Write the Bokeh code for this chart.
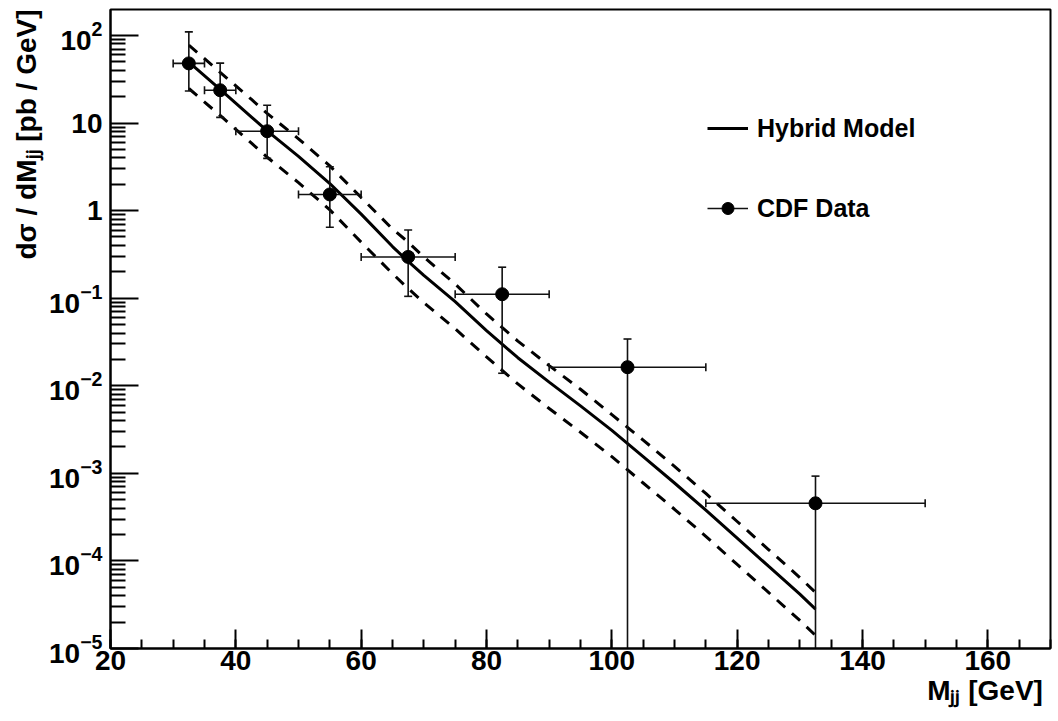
from math import pi
from bokeh.plotting import figure
from bokeh.models import (Range1d, FixedTicker, LogTickFormatter, Legend, LegendItem,
                          ColumnDataSource, SingleIntervalTicker)
from bokeh.embed import file_html
from bokeh.resources import INLINE

# ---------------- data ----------------
# CDF data points
data_x = [32.5, 37.5, 45.0, 55.0, 67.5, 82.5, 102.5, 132.5]
data_y = [48.0, 23.7, 8.07, 1.53, 0.296, 0.111, 0.0163, 4.55e-4]
data_x_low = [30.0, 35.0, 40.0, 50.0, 60.0, 75.0, 90.0, 115.0]
data_x_high = [35.0, 40.0, 50.0, 60.0, 75.0, 90.0, 115.0, 150.0]
data_y_high = [110.0, 48.4, 16.0, 3.17, 0.60, 0.226, 0.0342, 9.3e-4]
data_y_low = [23.2, 11.6, 3.95, 0.645, 0.105, 0.0139, 1e-6, 1e-6]

# Hybrid model (central, upper and lower dashed curves)
model_x = [32.5, 37.5, 42.5, 45, 50, 55, 60, 65, 67.5, 70, 75, 80, 85, 90, 95,
           100, 105, 110, 115, 120, 125, 130, 132.5]
model_central = [49.5, 24.3, 11.7, 8.13, 4.17, 2.04, 0.912, 0.389, 0.263, 0.182,
                 0.0912, 0.0427, 0.0209, 0.011, 0.00589, 0.00309, 0.00155,
                 7.76e-4, 3.80e-4, 1.82e-4, 8.71e-5, 4.17e-5, 2.82e-5]
model_upper = [77.6, 38.0, 18.6, 12.9, 6.61, 3.24, 1.41, 0.617, 0.437, 0.295,
               0.145, 0.0661, 0.0324, 0.0170, 0.00912, 0.00468, 0.0024, 0.0012,
               5.89e-4, 2.82e-4, 1.35e-4, 6.46e-5, 4.37e-5]
model_lower = [24.8, 12.2, 5.89, 4.07, 2.09, 1.02, 0.437, 0.191, 0.129, 0.0891,
               0.0447, 0.0214, 0.0105, 0.0055, 0.00295, 0.00155, 7.76e-4,
               3.89e-4, 1.91e-4, 9.12e-5, 4.37e-5, 2.09e-5, 1.41e-5]

# axis ticks
y_major_ticks = [1e-5, 1e-4, 1e-3, 1e-2, 1e-1, 1, 10, 100]
y_minor_mantissas = [2, 3, 4, 5, 6, 7, 8, 9]
y_label_overrides = {1: "1", 10: "10"}

legend_labels = ["Hybrid Model", "CDF Data"]
x_title = "M\u2c7c\u2c7c [GeV]"
y_title = "d\u03c3 / dM\u2c7c\u2c7c [pb / GeV]"

FONT = "Liberation Sans"

# ---------------- figure ----------------
p = figure(width=1058, height=721,
           x_range=Range1d(20, 170), y_range=Range1d(1e-5, 198),
           y_axis_type="log", output_backend="svg", toolbar_location=None,
           min_border_left=110, min_border_right=8, min_border_top=9,
           min_border_bottom=73)
p.background_fill_color = "white"
p.border_fill_color = "white"
p.outline_line_color = "black"
p.outline_line_width = 2
p.xgrid.visible = False
p.ygrid.visible = False

# x axis
xa = p.xaxis[0]
xa.ticker = SingleIntervalTicker(interval=20, num_minor_ticks=4)
xa.major_tick_in = 19
xa.major_tick_out = 0
xa.minor_tick_in = 9
xa.minor_tick_out = 0
xa.major_tick_line_width = 2
xa.minor_tick_line_width = 2
xa.axis_line_width = 2
xa.major_label_standoff = 2
xa.major_label_text_font = FONT
xa.major_label_text_font_style = "bold"
xa.major_label_text_font_size = "28px"
xa.major_label_text_color = "black"

# y axis
y_minor_ticks = [m * t for t in y_major_ticks[:-1] for m in y_minor_mantissas]
ya = p.yaxis[0]
ya.ticker = FixedTicker(ticks=y_major_ticks, minor_ticks=y_minor_ticks)
ya.formatter = LogTickFormatter(min_exponent=1)
ya.major_label_overrides = y_label_overrides
ya.major_tick_in = 28
ya.major_tick_out = 0
ya.minor_tick_in = 15
ya.minor_tick_out = 0
ya.major_tick_line_width = 2
ya.minor_tick_line_width = 2
ya.axis_line_width = 2
ya.major_label_standoff = 8
ya.major_label_text_font = FONT
ya.major_label_text_font_style = "bold"
ya.major_label_text_font_size = "28px"
ya.major_label_text_color = "black"

# axis titles
aligned = True
try:
    xa.axis_label_align = "right"
    ya.axis_label_align = "right"
except Exception:
    aligned = False
if aligned:
    xa.axis_label = x_title
    ya.axis_label = y_title
else:
    xa.axis_label = "\u00a0" * 104 + x_title
    ya.axis_label = "\u00a0" * 50 + y_title
for ax in (xa, ya):
    ax.axis_label_text_font = FONT
    ax.axis_label_text_font_style = "bold"
    ax.axis_label_text_font_size = "28px"
    ax.axis_label_text_color = "black"
xa.axis_label_standoff = 2
ya.axis_label_standoff = 4

# ---------------- model curves ----------------
msrc = ColumnDataSource(dict(x=model_x, c=model_central, u=model_upper, l=model_lower))
p.line("x", "u", source=msrc, line_color="black", line_width=3, line_dash="11 9")
p.line("x", "l", source=msrc, line_color="black", line_width=3, line_dash="11 9")
solid = p.line("x", "c", source=msrc, line_color="black", line_width=3)

# ---------------- data with error bars ----------------
dsrc = ColumnDataSource(dict(x=data_x, y=data_y, xl=data_x_low, xh=data_x_high,
                             yl=data_y_low, yh=data_y_high))
hseg = p.segment(x0="xl", x1="xh", y0="y", y1="y", source=dsrc,
                 line_color="#111111", line_width=1.6)
p.segment(x0="x", x1="x", y0="yl", y1="yh", source=dsrc,
          line_color="#111111", line_width=1.6)
# caps
p.scatter("x", "yh", source=dsrc, marker="dash", size=8, line_color="#111111", line_width=1.6)
p.scatter("x", "yl", source=dsrc, marker="dash", size=8, line_color="#111111", line_width=1.6)
p.scatter("xl", "y", source=dsrc, marker="dash", size=8, angle=pi / 2,
          line_color="#111111", line_width=1.6)
p.scatter("xh", "y", source=dsrc, marker="dash", size=8, angle=pi / 2,
          line_color="#111111", line_width=1.6)
dots = p.scatter("x", "y", source=dsrc, marker="circle", size=13,
                 fill_color="black", line_color="black")

# ---------------- legend ----------------
legend = Legend(items=[LegendItem(label=legend_labels[0], renderers=[solid]),
                       LegendItem(label=legend_labels[1], renderers=[hseg, dots])],
                location=(597, 425), orientation="vertical",
                border_line_color=None, background_fill_alpha=0,
                padding=0, margin=0, spacing=50,
                glyph_width=41, glyph_height=30, label_height=30,
                label_standoff=9,
                label_text_font=FONT, label_text_font_style="bold",
                label_text_font_size="25px", label_text_color="black")
p.add_layout(legend)

open("out.html", "w").write(file_html(p, INLINE))
